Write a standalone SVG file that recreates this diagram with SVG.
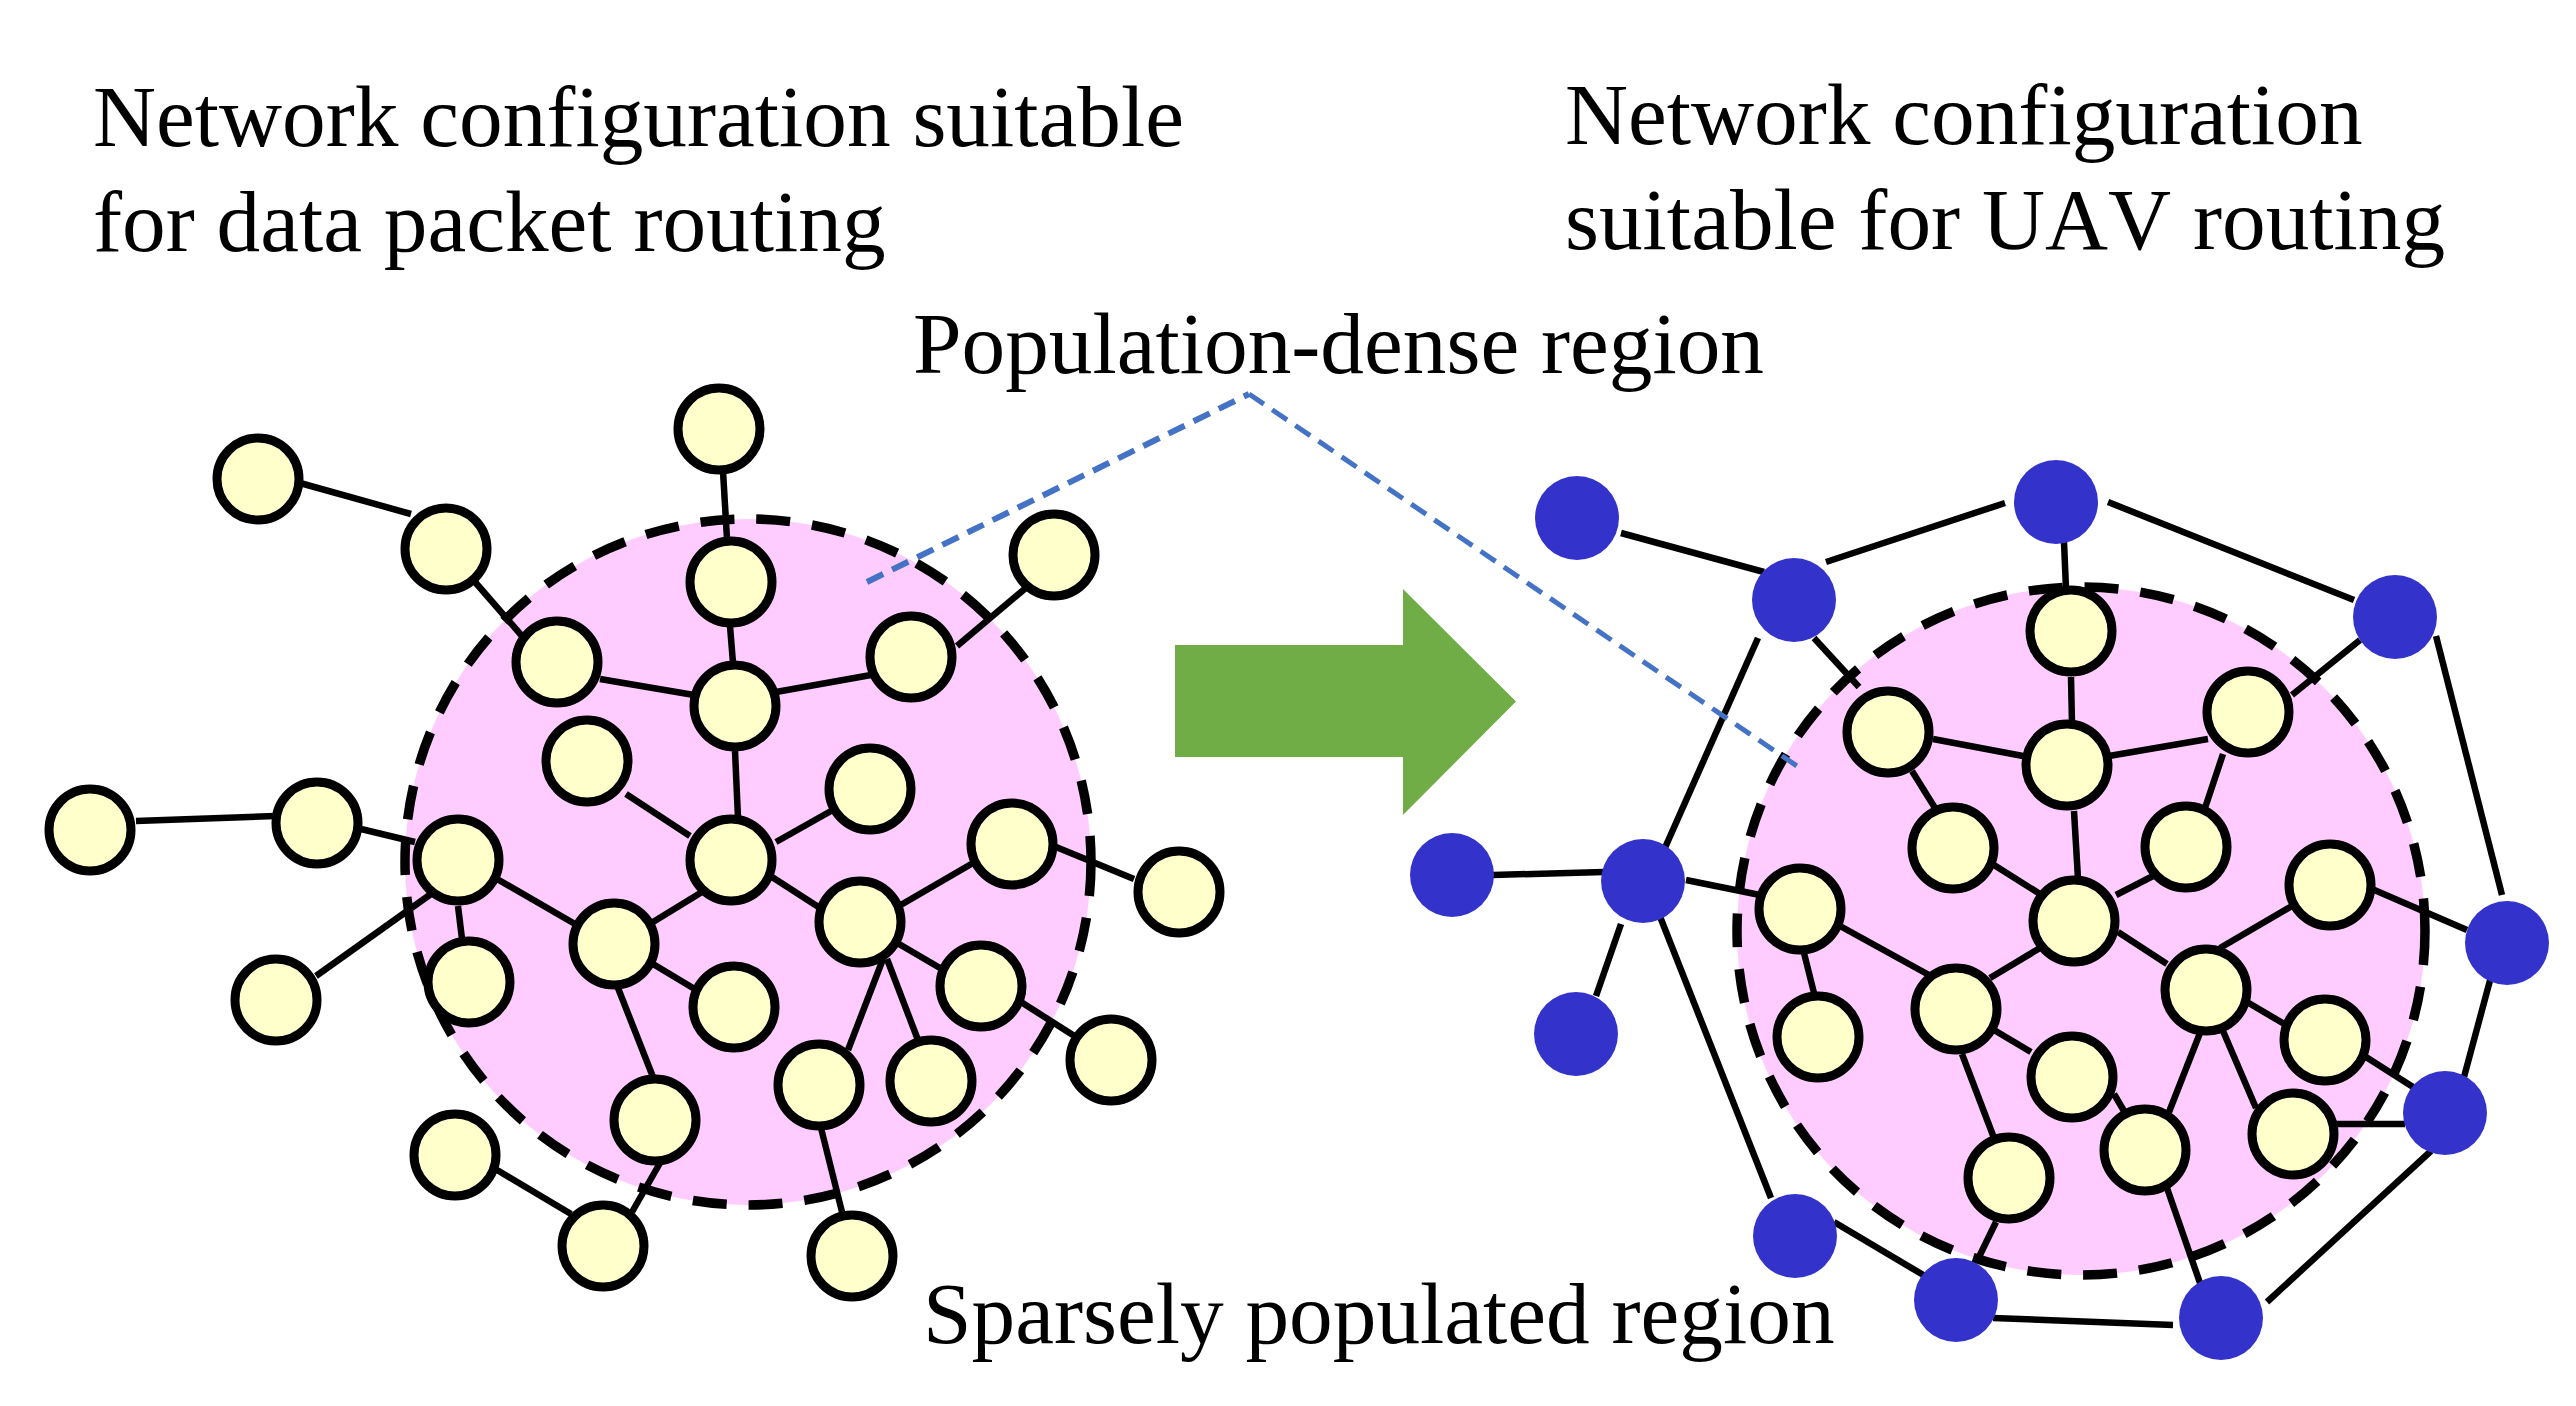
<svg xmlns="http://www.w3.org/2000/svg" width="2576" height="1406" viewBox="0 0 2576 1406">
<style>
.t{font-family:"Liberation Serif","Times New Roman",serif;font-size:87.300px;fill:#000}
.y{fill:#FFFFCC;stroke:#000;stroke-width:9}
.b{fill:#3333CC;stroke:none}
.r{fill:#FFCCFF;stroke:#000;stroke-width:9.500;stroke-dasharray:34 22}
.c line{stroke:#000;stroke-width:6.500;fill:none}
.d{stroke:#4472C4;stroke-dasharray:18 10;fill:none}
</style>
<rect width="2576" height="1406" fill="#fff"/>
<g id="region-left"><circle class="r" cx="748" cy="862" r="343"/></g>
<g id="region-right"><circle class="r" cx="2081" cy="931" r="344"/></g>
<g id="connectors" class="c">
<line x1="723" y1="471" x2="727" y2="539"/><line x1="300" y1="483" x2="411" y2="514"/><line x1="475" y1="582" x2="522" y2="636"/><line x1="600" y1="679" x2="694" y2="695"/><line x1="776" y1="692" x2="871" y2="675"/><line x1="957" y1="646" x2="1027" y2="587"/><line x1="730" y1="626" x2="733" y2="663"/><line x1="735" y1="751" x2="738" y2="818"/><line x1="626" y1="794" x2="690" y2="836"/><line x1="776" y1="842" x2="831" y2="811"/><line x1="136" y1="821" x2="275" y2="816"/><line x1="361" y1="829" x2="415" y2="842"/><line x1="497" y1="879" x2="575" y2="924"/><line x1="458" y1="906" x2="462" y2="939"/><line x1="431" y1="894" x2="316" y2="976"/><line x1="653" y1="922" x2="702" y2="892"/><line x1="653" y1="964" x2="698" y2="991"/><line x1="618" y1="988" x2="653" y2="1077"/><line x1="772" y1="877" x2="820" y2="908"/><line x1="899" y1="906" x2="973" y2="863"/><line x1="1056" y1="847" x2="1134" y2="879"/><line x1="899" y1="944" x2="940" y2="968"/><line x1="1021" y1="1002" x2="1076" y2="1037"/><line x1="883" y1="959" x2="848" y2="1050"/><line x1="887" y1="959" x2="918" y2="1040"/><line x1="821" y1="1128" x2="842" y2="1212"/><line x1="660" y1="1163" x2="632" y2="1212"/><line x1="497" y1="1170" x2="571" y2="1214"/>
<line x1="1621" y1="533" x2="1764" y2="572"/><line x1="1826" y1="562" x2="2005" y2="503"/><line x1="2108" y1="502" x2="2354" y2="600"/><line x1="2436" y1="636" x2="2502" y2="895"/><line x1="2492" y1="973" x2="2464" y2="1077"/><line x1="2431" y1="1151" x2="2267" y2="1302"/><line x1="2173" y1="1325" x2="1993" y2="1318"/><line x1="1834" y1="1222" x2="1925" y2="1276"/><line x1="1771" y1="1198" x2="1659" y2="914"/><line x1="1664" y1="850" x2="1758" y2="638"/><line x1="1493" y1="875" x2="1604" y2="872"/><line x1="1621" y1="924" x2="1596" y2="996"/>
<line x1="2064" y1="542" x2="2066" y2="589"/><line x1="1814" y1="638" x2="1859" y2="687"/><line x1="2360" y1="640" x2="2292" y2="695"/><line x1="2372" y1="889" x2="2467" y2="930"/><line x1="2366" y1="1057" x2="2413" y2="1087"/><line x1="2331" y1="1124" x2="2405" y2="1124"/><line x1="2167" y1="1188" x2="2200" y2="1283"/><line x1="1996" y1="1222" x2="1978" y2="1259"/><line x1="1686" y1="880" x2="1760" y2="895"/>
<line x1="2071" y1="677" x2="2072" y2="724"/><line x1="1933" y1="739" x2="2023" y2="756"/><line x1="2109" y1="756" x2="2208" y2="739"/><line x1="1912" y1="771" x2="1935" y2="808"/><line x1="2223" y1="754" x2="2205" y2="808"/><line x1="2074" y1="811" x2="2078" y2="879"/><line x1="1994" y1="865" x2="2040" y2="894"/><line x1="2155" y1="875" x2="2116" y2="895"/><line x1="2040" y1="948" x2="1990" y2="978"/><line x1="2118" y1="932" x2="2167" y2="964"/><line x1="1840" y1="926" x2="1929" y2="975"/><line x1="1804" y1="953" x2="1814" y2="993"/><line x1="1994" y1="1030" x2="2031" y2="1052"/><line x1="2114" y1="1094" x2="2124" y2="1111"/><line x1="1962" y1="1054" x2="1994" y2="1138"/><line x1="2220" y1="948" x2="2292" y2="906"/><line x1="2247" y1="1002" x2="2286" y2="1025"/><line x1="2200" y1="1033" x2="2169" y2="1112"/><line x1="2223" y1="1031" x2="2256" y2="1108"/>
</g>
<g id="nodes-left">
<g id="l1"><circle class="y" cx="719" cy="429" r="41"/></g><g id="l2"><circle class="y" cx="258" cy="479" r="41"/></g><g id="l3"><circle class="y" cx="446" cy="549" r="41"/></g><g id="l4"><circle class="y" cx="731" cy="582" r="41"/></g><g id="l5"><circle class="y" cx="1054" cy="555" r="41"/></g><g id="l6"><circle class="y" cx="557" cy="662" r="41"/></g><g id="l7"><circle class="y" cx="735" cy="706" r="41"/></g><g id="l8"><circle class="y" cx="911" cy="657" r="41"/></g><g id="l9"><circle class="y" cx="587" cy="761" r="41"/></g><g id="l10"><circle class="y" cx="870" cy="789" r="41"/></g><g id="l11"><circle class="y" cx="90" cy="830" r="41"/></g><g id="l12"><circle class="y" cx="317" cy="823" r="41"/></g><g id="l13"><circle class="y" cx="458" cy="860" r="41"/></g><g id="l14"><circle class="y" cx="731" cy="860" r="41"/></g><g id="l15"><circle class="y" cx="1012" cy="844" r="41"/></g><g id="l16"><circle class="y" cx="1179" cy="892" r="41"/></g><g id="l17"><circle class="y" cx="860" cy="922" r="41"/></g><g id="l18"><circle class="y" cx="614" cy="944" r="41"/></g><g id="l19"><circle class="y" cx="469" cy="982" r="41"/></g><g id="l20"><circle class="y" cx="276" cy="1000" r="41"/></g><g id="l21"><circle class="y" cx="734" cy="1007" r="41"/></g><g id="l22"><circle class="y" cx="981" cy="986" r="41"/></g><g id="l23"><circle class="y" cx="1111" cy="1060" r="41"/></g><g id="l24"><circle class="y" cx="819" cy="1085" r="41"/></g><g id="l25"><circle class="y" cx="931" cy="1081" r="41"/></g><g id="l26"><circle class="y" cx="655" cy="1120" r="41"/></g><g id="l27"><circle class="y" cx="455" cy="1155" r="41"/></g><g id="l28"><circle class="y" cx="603" cy="1246" r="41"/></g><g id="l29"><circle class="y" cx="852" cy="1256" r="41"/></g>
</g>
<g id="nodes-right">
<g id="r1"><circle class="y" cx="2071" cy="631" r="41"/></g><g id="r2"><circle class="y" cx="1888" cy="732" r="41"/></g><g id="r3"><circle class="y" cx="2067" cy="765" r="41"/></g><g id="r4"><circle class="y" cx="2248" cy="712" r="41"/></g><g id="r5"><circle class="y" cx="1953" cy="848" r="41"/></g><g id="r6"><circle class="y" cx="2186" cy="847" r="41"/></g><g id="r7"><circle class="y" cx="2074" cy="921" r="41"/></g><g id="r8"><circle class="y" cx="1800" cy="909" r="41"/></g><g id="r9"><circle class="y" cx="2330" cy="885" r="41"/></g><g id="r10"><circle class="y" cx="2206" cy="990" r="41"/></g><g id="r11"><circle class="y" cx="1956" cy="1009" r="41"/></g><g id="r12"><circle class="y" cx="1818" cy="1037" r="41"/></g><g id="r13"><circle class="y" cx="2325" cy="1040" r="41"/></g><g id="r14"><circle class="y" cx="2072" cy="1077" r="41"/></g><g id="r15"><circle class="y" cx="2293" cy="1134" r="41"/></g><g id="r16"><circle class="y" cx="2145" cy="1150" r="41"/></g><g id="r17"><circle class="y" cx="2009" cy="1178" r="41"/></g>
<g id="b1"><circle class="b" cx="1577" cy="518" r="42"/></g><g id="b2"><circle class="b" cx="1794" cy="600" r="42"/></g><g id="b3"><circle class="b" cx="2056" cy="502" r="42"/></g><g id="b4"><circle class="b" cx="2395" cy="617" r="42"/></g><g id="b5"><circle class="b" cx="2507" cy="943" r="42"/></g><g id="b6"><circle class="b" cx="2445" cy="1113" r="42"/></g><g id="b7"><circle class="b" cx="2221" cy="1318" r="42"/></g><g id="b8"><circle class="b" cx="1956" cy="1300" r="42"/></g><g id="b9"><circle class="b" cx="1795" cy="1236" r="42"/></g><g id="b10"><circle class="b" cx="1643" cy="881" r="42"/></g><g id="b11"><circle class="b" cx="1452" cy="875" r="42"/></g><g id="b12"><circle class="b" cx="1576" cy="1034" r="42"/></g>
</g>
<g id="arrow"><polygon points="1175,645 1403,645 1403,589 1516,701.500 1403,815 1403,757 1175,757" fill="#70AD47"/></g>
<g id="callout"><line class="d" stroke-width="6" x1="867" y1="582" x2="1249" y2="394"/><line class="d" stroke-width="5" x1="1249" y1="394" x2="1797" y2="766"/></g>
<g id="labels">
<text class="t" x="93" y="146">Network configuration suitable</text>
<text class="t" x="93" y="251">for data packet routing</text>
<text class="t" x="1565" y="144">Network configuration</text>
<text class="t" x="1565" y="249" style="font-kerning:none">suitable for UAV routing</text>
<text class="t" x="913" y="373">Population-dense region</text>
<text class="t" x="923" y="1343">Sparsely populated region</text>
</g>
</svg>
